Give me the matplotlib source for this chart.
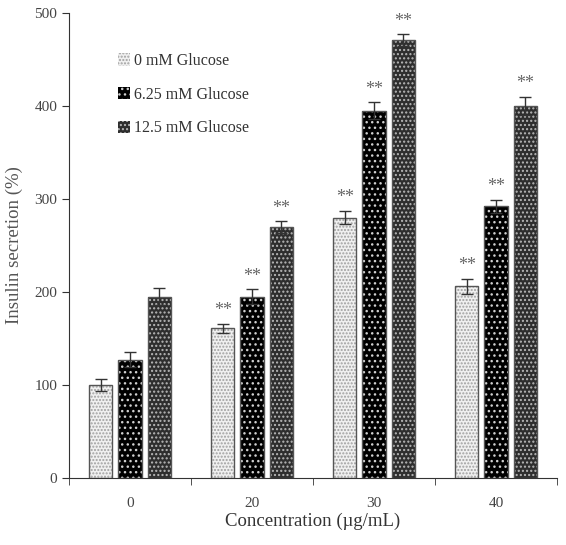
import matplotlib
matplotlib.use('Agg')
import matplotlib.pyplot as plt
import numpy as np

plt.rcParams['font.family'] = ['Liberation Serif', 'DejaVu Serif']
plt.rcParams['hatch.linewidth'] = 1.0

concs = ['0', '20', '30', '40']
series = ['0 mM Glucose', '6.25 mM Glucose', '12.5 mM Glucose']
vals_0 = [100, 161, 280, 206]
vals_625 = [127, 195, 395, 292]
vals_125 = [195, 270, 471, 400]
err_0 = [6, 5, 7, 8]
err_625 = [8, 8, 9, 7]
err_125 = [9, 6, 6, 10]
stars_0 = ['', '**', '**', '**']
stars_625 = ['', '**', '**', '**']
stars_125 = ['', '**', '**', '**']

vals = [vals_0, vals_625, vals_125]
errs = [err_0, err_625, err_125]
stars = [stars_0, stars_625, stars_125]
faces = ['#f0f0f0', '#000000', '#2e2e2e']
hcols = ['#a0a0a0', '#cfcfcf', '#b8b8b8']
hatches = ['.....', '...', '....']
offsets = [-0.24, 0.0, 0.24]
w = 0.19

fig = plt.figure(figsize=(5.66, 5.45), dpi=100)
ax = fig.add_axes([0.122, 0.123, 0.862, 0.853])

x = np.arange(len(concs))
handles = []
for i in range(3):
    xs = x + offsets[i]
    ax.bar(xs, vals[i], w, color=faces[i], edgecolor=hcols[i], hatch=hatches[i], linewidth=0, zorder=2)
    ax.bar(xs, vals[i], w, fill=False, edgecolor='#555555', linewidth=1.0, zorder=3)
    ax.errorbar(xs, vals[i], yerr=errs[i], fmt='none', ecolor='#333333', elinewidth=1.0, capsize=4, capthick=1.0, zorder=4)
    for xi, v, e, s in zip(xs, vals[i], errs[i], stars[i]):
        if s:
            ax.text(xi, v + e + 5, s, ha='center', va='bottom', fontsize=13, color='#666666')
    h = plt.Rectangle((0, 0), 1, 1, facecolor=faces[i], edgecolor=hcols[i], hatch=hatches[i], linewidth=0)
    handles.append(h)

leg = ax.legend(handles, series, loc='upper left', bbox_to_anchor=(0.07, 0.945), frameon=False,
                fontsize=11.5, handlelength=0.8, handleheight=0.8, handletextpad=0.2, labelspacing=1.1)
for t in leg.get_texts():
    t.set_color('#333333')

ax.set_xlim(-0.5, 3.5)
ax.set_ylim(0, 500)
ax.set_yticks([0, 100, 200, 300, 400, 500])
ax.set_xticks(x)
ax.set_xticklabels(concs)
ax.set_xticks(np.arange(-0.5, 4.0, 1.0), minor=True)
ax.tick_params(axis='x', which='major', length=0, pad=14, labelsize=11, labelcolor='#444444')
ax.tick_params(axis='x', which='minor', length=5, direction='out', color='#333333')
ax.tick_params(axis='y', length=5, direction='out', labelsize=11, labelcolor='#444444', color='#333333')
for side in ['top', 'right']:
    ax.spines[side].set_visible(False)
for side in ['left', 'bottom']:
    ax.spines[side].set_color('#333333')
ax.set_xlabel('Concentration (µg/mL)', fontsize=13.5, color='#333333', labelpad=2)
ax.set_ylabel('Insulin secretion (%)', fontsize=13.5, color='#555555', labelpad=8)

fig.savefig('out.png', dpi=100)
